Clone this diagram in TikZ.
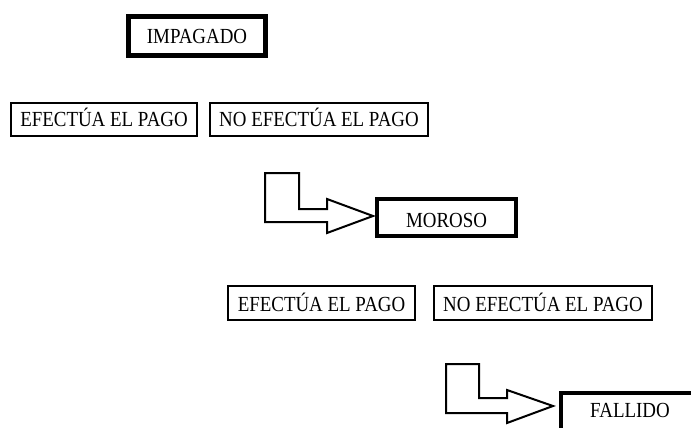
\documentclass[tikz,border=0pt]{standalone}
\usepackage{graphicx}
\usepackage{fontspec}
\setmainfont{Liberation Serif}
% slightly condensed capitals
\newcommand{\narrowcaps}[1]{\scalebox{0.88}[1]{#1}}
\begin{document}
\begin{tikzpicture}[x=1pt,y=-1pt,
  every node/.style={inner sep=0pt,font=\fontsize{21.5}{24}\selectfont,
    text height=14.2pt,text depth=0pt},
  thinbox/.style={draw=black,line width=2pt,minimum height=33pt},
  thickbox/.style={draw=black,line width=4pt},
  blockarrow/.style={draw=black,line width=2pt,line join=miter,fill=white}]
\useasboundingbox (0,0) rectangle (691,428);
\clip (0,0) rectangle (691,428);

% top state
\node[draw=black,line width=5pt,minimum width=137pt,minimum height=39pt] (impagado) at (197,36) {\narrowcaps{IMPAGADO}};

% first choice
\node[thinbox,minimum width=186pt] (pago1) at (104,119.5) {\narrowcaps{EFECTÚA EL PAGO}};
\node[thinbox,minimum width=218pt] (nopago1) at (319,119.5) {\narrowcaps{NO EFECTÚA EL PAGO}};

% bent block arrow into MOROSO
\draw[blockarrow] (265,173) -- (299,173) -- (299,209) -- (327,209) -- (327,199)
  -- (373,216) -- (327,233) -- (327,222) -- (265,222) -- cycle;
\node[thickbox,minimum width=139pt,minimum height=37pt,text height=20.2pt] (moroso) at (446.5,217.5) {\narrowcaps{MOROSO}};

% second choice
\node[thinbox,minimum width=187pt,minimum height=34pt,text height=16.6pt] (pago2) at (321.5,303) {\narrowcaps{EFECTÚA EL PAGO}};
\node[thinbox,minimum width=218pt,minimum height=34pt,text height=16.6pt] (nopago2) at (543,303) {\narrowcaps{NO EFECTÚA EL PAGO}};

% bent block arrow into FALLIDO
\draw[blockarrow] (446,364) -- (479,364) -- (479,398) -- (507,398) -- (507,390)
  -- (553,406) -- (507,423) -- (507,413) -- (446,413) -- cycle;
\node[thickbox,anchor=north west,minimum width=138pt,minimum height=50pt,
  text height=14.2pt,text depth=16.2pt] (fallido) at (559,391) {\narrowcaps{FALLIDO}};
\end{tikzpicture}
\end{document}
